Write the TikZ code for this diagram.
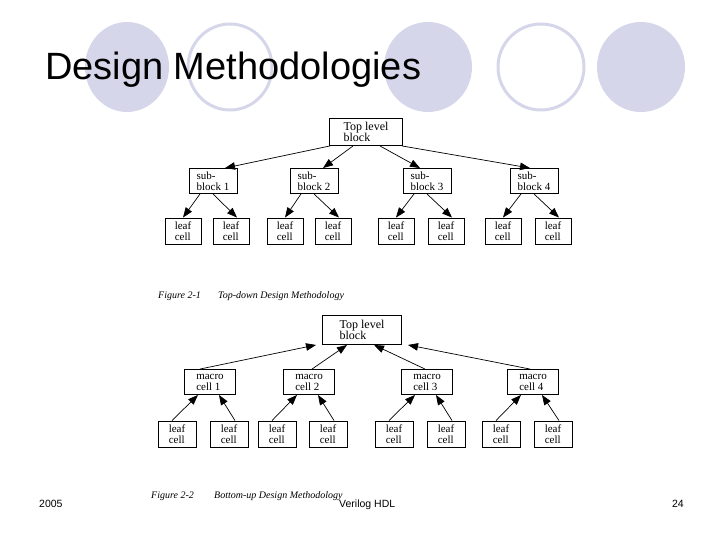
\documentclass[tikz,border=0pt]{standalone}
\usepackage{fontspec}
\setmainfont{Liberation Serif}
\newfontfamily\slidefont{Liberation Sans}
\usetikzlibrary{arrows.meta}
\definecolor{bubble}{RGB}{214,214,234}
\tikzset{
  blk/.style={draw, line width=0.9pt, align=left, inner sep=0pt,
    font=\fontsize{11}{11}\selectfont},
  topblk/.style={blk, minimum width=73pt, minimum height=27pt,
    font=\fontsize{12}{11.5}\selectfont},
  subblk/.style={blk, minimum width=48pt, minimum height=25pt},
  macblk/.style={blk, minimum width=51pt, minimum height=25pt},
  leafblk/.style={blk, minimum width=36pt, minimum height=26pt},
  arr/.style={-{Triangle[length=10pt,width=7.5pt]}, line width=0.7pt},
  caption/.style={anchor=base west, inner sep=0pt, font=\fontsize{10}{10}\selectfont\itshape},
  foot/.style={inner sep=0pt, font=\slidefont\fontsize{10.5}{11}\selectfont},
}
\begin{document}
\begin{tikzpicture}[x=1pt, y=-1pt]
        \useasboundingbox (0,0) rectangle (720,540);
        % bubbles behind the title
        \fill[bubble] (127,67) ellipse [x radius=42pt, y radius=45pt];
        \draw[bubble, line width=3pt] (230,67) ellipse [x radius=42pt, y radius=43pt];
        \fill[bubble] (428,67) ellipse [x radius=44pt, y radius=45pt];
        \draw[bubble, line width=3pt] (541,67) ellipse [x radius=43pt, y radius=43pt];
        \fill[bubble] (641,67) ellipse [x radius=44pt, y radius=45pt];
        \node[anchor=base west, inner sep=0pt, font=\slidefont\fontsize{38}{40}\selectfont]
            (title) at (45,80) {Design Methodologies};

        % top-down
        \node[topblk] (top) at (366,132) {Top level\\block};
        \node[subblk] (sub1) at (213,181) {sub-\\block 1};
        \node[subblk] (sub2) at (314,181) {sub-\\block 2};
        \node[subblk] (sub3) at (427,181) {sub-\\block 3};
        \node[subblk] (sub4) at (534,181) {sub-\\block 4};
        \foreach \x [count=\i] in {183,231,285,333,396,446,503,553}
            \node[leafblk] (leafa\i) at (\x,231) {leaf\\cell};
        \draw[arr] ([xshift=-36pt]top.south) -- ([xshift=12pt]sub1.north);
        \draw[arr] ([xshift=-13pt]top.south) -- ([xshift=9pt]sub2.north);
        \draw[arr] ([xshift=14pt]top.south) -- ([xshift=-7pt]sub3.north);
        \draw[arr] ([xshift=36pt]top.south) -- ([xshift=-4pt]sub4.north);
        \foreach \s [evaluate=\s as \l using int(2*\s-1),
                     evaluate=\s as \r using int(2*\s)] in {1,...,4} {
            \draw[arr] ([xshift=-13pt]sub\s.south) -- (leafa\l.north);
            \draw[arr] (sub\s.south) -- ([xshift=6pt]leafa\r.north);
        }
        \node[caption] (fig1) at (158,298) {Figure 2-1};
        \node[caption] (fig1t) at (218,298) {Top-down Design Methodology};

        % bottom-up
        \node[topblk, minimum width=79pt, minimum height=29pt] (btop) at (362,330) {Top level\\block};
        \node[macblk] (mac1) at (210,382) {macro\\cell 1};
        \node[macblk] (mac2) at (309,382) {macro\\cell 2};
        \node[macblk] (mac3) at (427,382) {macro\\cell 3};
        \node[macblk] (mac4) at (533,382) {macro\\cell 4};
        \foreach \x [count=\i] in {177,229,277,328,394,446,501,553}
            \node[leafblk, minimum width=38pt] (leafb\i) at (\x,434) {leaf\\cell};
        \draw[arr] ([xshift=-10pt]mac1.north) -- ([xshift=-46pt]btop.south);
        \draw[arr] ([xshift=3pt]mac2.north) -- ([xshift=-15pt]btop.south);
        \draw[arr] ([xshift=-2pt]mac3.north) -- ([xshift=12pt]btop.south);
        \draw[arr] ([xshift=-3pt]mac4.north) -- ([xshift=46pt]btop.south);
        \foreach \s [evaluate=\s as \l using int(2*\s-1),
                     evaluate=\s as \r using int(2*\s)] in {1,...,4} {
            \draw[arr] ([xshift=-5pt]leafb\l.north) -- ([xshift=-12pt]mac\s.south);
            \draw[arr] ([xshift=6pt]leafb\r.north) -- ([xshift=9pt]mac\s.south);
        }
        \node[caption] (fig2) at (151,498) {Figure 2-2};
        \node[caption] (fig2t) at (214,498) {Bottom-up Design Methodology};

        % footer
        \node[foot, anchor=base west] (year) at (39,507) {2005};
        \node[foot, anchor=base west] (course) at (339,507) {Verilog HDL};
        \node[foot, anchor=base east] (page) at (684,507) {24};
\end{tikzpicture}
\end{document}
